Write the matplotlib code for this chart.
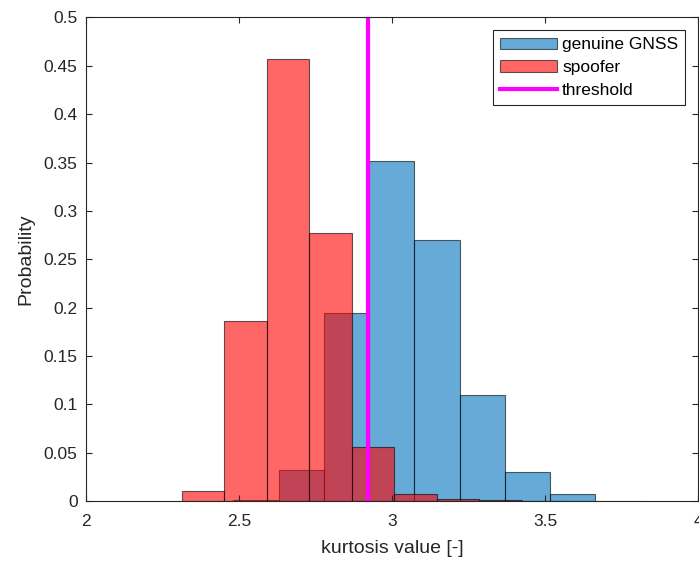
import numpy as np
import matplotlib.pyplot as plt

plt.rcParams['font.family'] = ['Liberation Sans', 'DejaVu Sans']

# histogram bins (normalised to probability)
genuine_start = 2.4812
genuine_width = 0.14777
genuine_prob = [0.0007, 0.032, 0.194, 0.352, 0.270, 0.110, 0.030, 0.007, 0.0005]

spoofer_start = 2.3133
spoofer_width = 0.13879
spoofer_prob = [0.0107, 0.186, 0.4566, 0.2767, 0.0558, 0.0069, 0.002, 0.0013, 0.0004]

threshold = 2.922

genuine_edges = genuine_start + genuine_width * np.arange(len(genuine_prob))
spoofer_edges = spoofer_start + spoofer_width * np.arange(len(spoofer_prob))

fig = plt.figure(figsize=(6.99, 5.63), dpi=100)
ax = fig.add_axes([0.123, 0.110, 0.876, 0.859])

b1 = ax.bar(genuine_edges, genuine_prob, width=genuine_width, align='edge',
            color=(0, 0.447, 0.741), alpha=0.6, edgecolor='black', linewidth=0.8,
            label='genuine GNSS')
b2 = ax.bar(spoofer_edges, spoofer_prob, width=spoofer_width, align='edge',
            color=(1, 0, 0), alpha=0.6, edgecolor='black', linewidth=0.8,
            label='spoofer')
ln = ax.axvline(threshold, color='magenta', linewidth=3, label='threshold')

ax.set_xlim(2, 4)
ax.set_ylim(0, 0.5)
ax.set_xticks([2, 2.5, 3, 3.5, 4])
ax.set_xticklabels(['2', '2.5', '3', '3.5', '4'])
ax.set_yticks(np.arange(0, 0.51, 0.05))
ax.set_yticklabels(['0', '0.05', '0.1', '0.15', '0.2', '0.25', '0.3',
                    '0.35', '0.4', '0.45', '0.5'])
ax.tick_params(direction='in', top=True, right=True, labelsize=12.5,
               color='#262626', labelcolor='#262626', length=4, pad=6)
ax.tick_params(axis='x', pad=9)
for s in ax.spines.values():
    s.set_color('#262626')
    s.set_linewidth(0.8)

ax.set_xlabel('kurtosis value [-]', fontsize=14, color='#262626', labelpad=8)
ax.set_ylabel('Probability', fontsize=14, color='#262626', labelpad=7)

leg = ax.legend(handles=[b1, b2, ln], loc='upper right', fontsize=12.5,
                fancybox=False, edgecolor='#262626', framealpha=1,
                borderaxespad=0.75, borderpad=0.4, handlelength=3.3,
                handleheight=0.65, handletextpad=0.3, labelspacing=0.45)
leg.get_frame().set_linewidth(0.8)

fig.savefig('out.png', dpi=100)
